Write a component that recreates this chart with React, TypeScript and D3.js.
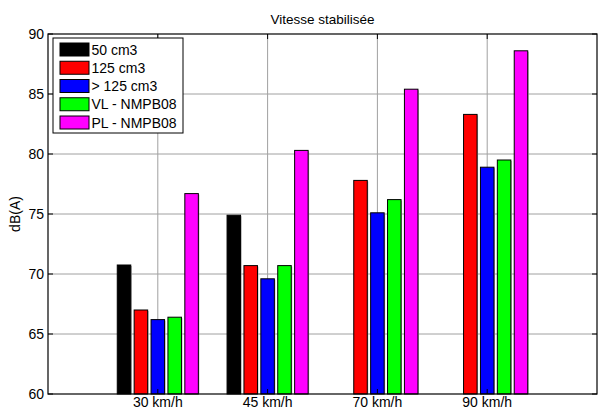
import * as d3 from 'd3'
import { useEffect, useRef } from 'react'

const categories = ['30 km/h', '45 km/h', '70 km/h', '90 km/h']
const seriesNames = ['50 cm3', '125 cm3', '> 125 cm3', 'VL - NMPB08', 'PL - NMPB08']
const seriesColors = ['#000000', '#ff0000', '#0000ff', '#00ff00', '#ff00ff']
// one array per series, in category order (null = no bar)
const cm50 = [70.75, 74.9, null, null]
const cm125 = [67.0, 70.7, 77.8, 83.3]
const cmOver125 = [66.2, 69.6, 75.1, 78.9]
const vlNmpb = [66.4, 70.7, 76.2, 79.5]
const plNmpb = [76.7, 80.3, 85.4, 88.6]
const yTicks = [60, 65, 70, 75, 80, 85, 90]
const xGrid = [1, 2, 3, 4]

const seriesValues = [cm50, cm125, cmOver125, vlNmpb, plNmpb]

export default function App() {
  const ref = useRef<SVGSVGElement>(null)

  useEffect(() => {
    if (!ref.current) return
    const width = 598
    const height = 410
    const margin = { top: 34, right: 1, bottom: 16, left: 48 }
    const font = 'Liberation Sans, Arial, sans-serif'

    const svg = d3.select(ref.current)
      .attr('width', width)
      .attr('height', height)
    svg.selectAll('*').remove()

    const x = d3.scaleLinear().domain([0, 5]).range([margin.left, width - margin.right])
    const y = d3.scaleLinear().domain([60, 90]).range([height - margin.bottom, margin.top])

    // matlab style grouped bars: group width 5/6.5, bar = 0.8 of slot
    const groupWidth = 5 / 6.5
    const inner = d3.scaleBand()
      .domain(seriesNames)
      .range([-groupWidth / 2, groupWidth / 2])
      .paddingInner(0.2)
      .paddingOuter(0.1)

    const g = svg.append('g')

    // plot background
    g.append('rect')
      .attr('x', x(0)).attr('y', y(90))
      .attr('width', x(5) - x(0)).attr('height', y(60) - y(90))
      .attr('fill', 'white')

    // grid
    g.selectAll('line.hgrid').data(yTicks.slice(1, -1)).enter()
      .append('line')
      .attr('x1', x(0)).attr('x2', x(5))
      .attr('y1', d => y(d)).attr('y2', d => y(d))
      .attr('stroke', '#a0a0a0').attr('stroke-width', 1)
    g.selectAll('line.vgrid').data(xGrid).enter()
      .append('line')
      .attr('x1', d => x(d)).attr('x2', d => x(d))
      .attr('y1', y(60)).attr('y2', y(90))
      .attr('stroke', '#a0a0a0').attr('stroke-width', 1)

    // bars
    seriesValues.forEach((vals, si) => {
      const name = seriesNames[si]
      vals.forEach((v, ci) => {
        if (v == null) return
        const x0 = x(ci + 1 + (inner(name) as number))
        const x1 = x(ci + 1 + (inner(name) as number) + inner.bandwidth())
        g.append('rect')
          .attr('x', x0 + 1).attr('y', y(v) + 1)
          .attr('width', x1 - x0).attr('height', y(60) - y(v) - 1)
          .attr('fill', '#b0b0b0')
        g.append('rect')
          .attr('x', x0).attr('y', y(v))
          .attr('width', x1 - x0).attr('height', y(60) - y(v))
          .attr('fill', seriesColors[si])
          .attr('stroke', '#000').attr('stroke-width', 1)
      })
    })

    // axes box
    g.append('rect')
      .attr('x', x(0)).attr('y', y(90))
      .attr('width', x(5) - x(0)).attr('height', y(60) - y(90))
      .attr('fill', 'none').attr('stroke', '#000').attr('stroke-width', 1.2)

    // ticks
    yTicks.forEach(t => {
      g.append('line').attr('x1', x(0)).attr('x2', x(0) + 5)
        .attr('y1', y(t)).attr('y2', y(t)).attr('stroke', '#000')
      g.append('line').attr('x1', x(5)).attr('x2', x(5) - 5)
        .attr('y1', y(t)).attr('y2', y(t)).attr('stroke', '#000')
      g.append('text')
        .attr('x', x(0) - 4).attr('y', y(t) + 5)
        .attr('text-anchor', 'end')
        .attr('font-family', font).attr('font-size', 14)
        .text(t)
    })
    xGrid.forEach((t, i) => {
      g.append('line').attr('x1', x(t)).attr('x2', x(t))
        .attr('y1', y(60)).attr('y2', y(60) - 5).attr('stroke', '#000')
      g.append('line').attr('x1', x(t)).attr('x2', x(t))
        .attr('y1', y(90)).attr('y2', y(90) + 5).attr('stroke', '#000')
      g.append('text')
        .attr('x', x(t)).attr('y', y(60) + 13)
        .attr('text-anchor', 'middle')
        .attr('font-family', font).attr('font-size', 14)
        .text(categories[i])
    })

    // title and y label
    g.append('text')
      .attr('x', (x(0) + x(5)) / 2).attr('y', y(90) - 10)
      .attr('text-anchor', 'middle')
      .attr('font-family', font).attr('font-size', 13.5)
      .text('Vitesse stabilisée')
    g.append('text')
      .attr('transform', `translate(20,${(y(60) + y(90)) / 2}) rotate(-90)`)
      .attr('text-anchor', 'middle')
      .attr('font-family', font).attr('font-size', 14)
      .text('dB(A)')

    // legend
    const lx = 53, ly = 38, rowH = 18.25
    const legend = g.append('g').attr('transform', `translate(${lx},${ly})`)
    legend.append('rect')
      .attr('width', 130).attr('height', 95)
      .attr('fill', 'white').attr('stroke', '#000').attr('stroke-width', 1)
    seriesNames.forEach((name, i) => {
      legend.append('rect')
        .attr('x', 7).attr('y', 5 + i * rowH)
        .attr('width', 29).attr('height', 13)
        .attr('fill', seriesColors[i]).attr('stroke', '#000').attr('stroke-width', 1)
      legend.append('text')
        .attr('x', 38.5).attr('y', 16.5 + i * rowH)
        .attr('font-family', font).attr('font-size', 14)
        .text(name)
    })
  }, [])

  return (
    <svg ref={ref} style={{ position: 'absolute', left: 0, top: 0, display: 'block' }} />
  )
}
